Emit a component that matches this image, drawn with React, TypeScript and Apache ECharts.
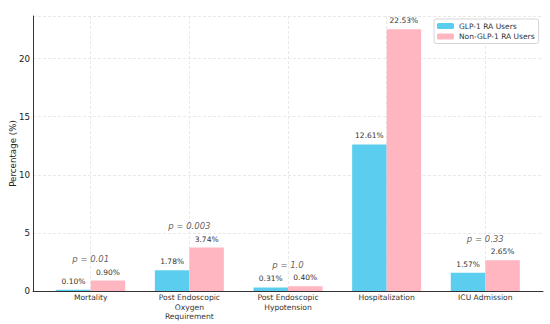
import React, { useEffect, useRef } from "react";
import * as echarts from "echarts";

const categories = [
  "Mortality",
  "Post Endoscopic\nOxygen\nRequirement",
  "Post Endoscopic\nHypotension",
  "Hospitalization",
  "ICU Admission",
];
const glpValues = [0.1, 1.78, 0.31, 12.61, 1.57];
const nonGlpValues = [0.9, 3.74, 0.4, 22.53, 2.65];
const pValues = ["p = 0.01", "p = 0.003", "p = 1.0", "p = 0.0001", "p = 0.33"];
const yTicks = [0, 5, 10, 15, 20];

export default function App() {
  const ref = useRef<HTMLDivElement>(null);
  useEffect(() => {
    if (!ref.current) return;
    const chart = echarts.init(ref.current, undefined, { renderer: "svg" });
    const idx = categories.map((_, i) => i);
    const font = "DejaVu Sans";
    chart.setOption({
      animation: false,
      textStyle: { fontFamily: font },
      grid: { left: 33, right: 7, top: 16, bottom: 33, outerBoundsMode: "none", containLabel: false },
      legend: {
        left: 434,
        top: 19,
        orient: "vertical",
        itemWidth: 17,
        itemHeight: 6,
        itemGap: 2.5,
        padding: [3, 4, 3, 3],
        borderColor: "#d6d6d6",
        borderWidth: 1,
        borderRadius: 2,
        backgroundColor: "#ffffff",
        textStyle: { fontSize: 7.5, color: "#333", fontFamily: font },
        data: ["GLP-1 RA Users", "Non-GLP-1 RA Users"],
      },
      xAxis: {
        type: "value",
        min: -0.585,
        max: 4.585,
        axisLine: { show: true, onZero: false, lineStyle: { color: "#333", width: 1 } },
        axisTick: { show: false, customValues: idx },
        axisLabel: {
          customValues: idx,
          formatter: (v: number) => categories[Math.round(v)] ?? "",
          fontSize: 7.6,
          color: "#333",
          lineHeight: 9.5,
          margin: 2,
          fontFamily: font,
        },
        splitLine: {
          show: true,
          lineStyle: { color: "#e3e3e3", type: [3, 2], width: 0.8 },
        },
      },
      yAxis: {
        type: "value",
        min: 0,
        max: 23.66,
        interval: 5,
        name: "Percentage (%)",
        nameLocation: "middle",
        nameGap: 16,
        nameMoveOverlap: false,
        nameTextStyle: { fontSize: 8.7, color: "#222", fontFamily: font },
        axisLine: { show: true, onZero: false, lineStyle: { color: "#333", width: 1 } },
        axisTick: { show: false },
        axisLabel: {
          fontSize: 8.7,
          color: "#222",
          margin: 3,
          fontFamily: font,
          customValues: yTicks,
        },
        splitLine: {
          show: true,
          lineStyle: { color: "#e3e3e3", type: [3, 2], width: 0.8 },
        },
      },
      series: [
        {
          name: "GLP-1 RA Users",
          type: "bar",
          data: glpValues.map((v, i) => [i, v]),
          barWidth: 34.5,
          barGap: "0%",
          itemStyle: { color: "#5bcef0" },
          label: {
            show: true,
            position: "top",
            distance: 4.5,
            fontSize: 7.5,
            color: "#333",
            fontFamily: font,
            formatter: (p: any) => p.value[1].toFixed(2) + "%",
          },
        },
        {
          name: "Non-GLP-1 RA Users",
          type: "bar",
          data: nonGlpValues.map((v, i) => [i, v]),
          barWidth: 34.5,
          barGap: "0%",
          itemStyle: { color: "#ffb6c1" },
          label: {
            show: true,
            position: "top",
            distance: 4.5,
            fontSize: 7.5,
            color: "#333",
            fontFamily: font,
            formatter: (p: any) => p.value[1].toFixed(2) + "%",
          },
        },
        {
          name: "p",
          type: "scatter",
          symbolSize: 0,
          silent: true,
          data: pValues.map((_, i) => [
            i,
            Math.max(glpValues[i], nonGlpValues[i]) + 1.85,
          ]),
          label: {
            show: true,
            position: "inside",
            fontSize: 8.5,
            fontStyle: "italic",
            color: "#333",
            fontFamily: font,
            formatter: (p: any) => pValues[p.dataIndex],
          },
        },
      ],
    });
    return () => chart.dispose();
  }, []);
  return <div ref={ref} style={{ width: 550, height: 324, position: "absolute", left: 0, top: 0 }} />;
}
